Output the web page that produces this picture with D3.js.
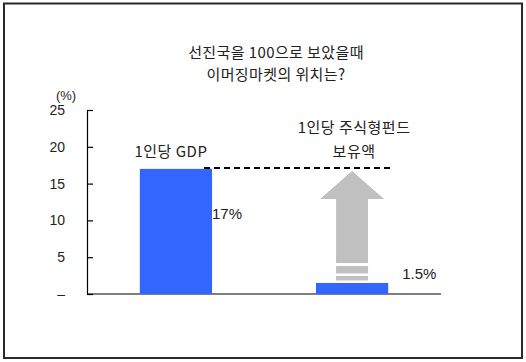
<!DOCTYPE html>
<html>
<head>
<meta charset="utf-8">
<script src="https://cdn.jsdelivr.net/npm/d3@7"></script>
<style>
  body { margin: 0; background: #fff; }
  text { font-family: "Noto Sans CJK KR", "Noto Sans", sans-serif; fill: #222; }
</style>
</head>
<body>
<svg id="chart"></svg>
<script>
// chart data
const categories = ['1인당 GDP', '1인당 주식형펀드 보유액'];
const values = [17, 1.5];
const valueLabels = ['17%', '1.5%'];
const catLabelLines = [['1인당 GDP'], ['1인당 주식형펀드', '보유액']];
const yTicks = [0, 5, 10, 15, 20, 25];
const yTickLabels = ['–', '5', '10', '15', '20', '25'];
const titleLines = ['선진국을 100으로 보았을때', '이머징마켓의 위치는?'];

const width = 526, height = 362;
const margin = { top: 110, right: 85, bottom: 68, left: 87 };
const innerW = width - margin.left - margin.right;
const innerH = height - margin.top - margin.bottom;

const svg = d3.select('#chart')
    .attr('width', width)
    .attr('height', height);

// frame
svg.append('rect')
    .attr('x', 4).attr('y', 3.5)
    .attr('width', 518).attr('height', 354.5)
    .attr('fill', 'none')
    .attr('stroke', '#2a2a2a')
    .attr('stroke-width', 2);

// title
svg.selectAll('.title')
    .data(titleLines)
    .join('text')
    .attr('class', 'title')
    .attr('x', 276)
    .attr('y', (d, i) => 58 + i * 22)
    .attr('text-anchor', 'middle')
    .attr('font-size', '15px')
    .attr('letter-spacing', '0.4px')
    .text(d => d);

const chart = svg.append('g')
    .attr('transform', `translate(${margin.left},${margin.top})`);

const xScale = d3.scaleBand()
    .domain(categories)
    .range([0, innerW])
    .paddingInner(0.59)
    .paddingOuter(0.3);

const yScale = d3.scaleLinear()
    .domain([0, 25])
    .range([innerH, 0]);

// y axis with inward ticks
const yAxis = d3.axisRight(yScale)
    .tickValues(yTicks)
    .tickFormat((d, i) => yTickLabels[i])
    .tickSize(6)
    .tickSizeOuter(0);

const yAxisG = chart.append('g').call(yAxis);
yAxisG.select('.domain').attr('stroke', '#000').attr('stroke-width', 1.2);
yAxisG.selectAll('.tick line').attr('stroke', '#000').attr('stroke-width', 1.2);
yAxisG.selectAll('.tick text')
    .attr('x', -22)
    .attr('text-anchor', 'end')
    .attr('font-size', '14px')
    .attr('fill', '#222')
    .style('font-family', 'Arial, "Liberation Sans", sans-serif');

chart.append('text')
    .attr('x', -21)
    .attr('y', -10)
    .attr('text-anchor', 'middle')
    .attr('font-size', '13px')
    .style('font-family', 'Arial, "Liberation Sans", sans-serif')
    .text('(%)');

// x baseline
chart.append('line')
    .attr('x1', 0).attr('x2', innerW)
    .attr('y1', yScale(0)).attr('y2', yScale(0))
    .attr('stroke', '#000')
    .attr('stroke-width', 1.2);

// arrow from the small bar up to the GDP level
const cx2 = xScale(categories[1]) + xScale.bandwidth() / 2;
const tipY = yScale(values[0]) + 2;
const headY = tipY + 28;
const shaftEnd = yScale(values[1]) - 20;
const arrowG = chart.append('g').attr('fill', '#c0c0c0');
arrowG.append('path')
    .attr('d', `M${cx2},${tipY} L${cx2 + 32},${headY} L${cx2 + 16},${headY} L${cx2 + 16},${shaftEnd}
        L${cx2 - 16},${shaftEnd} L${cx2 - 16},${headY} L${cx2 - 32},${headY} Z`);
arrowG.append('rect')
    .attr('x', cx2 - 16).attr('y', yScale(values[1]) - 17)
    .attr('width', 32).attr('height', 7.5);
arrowG.append('rect')
    .attr('x', cx2 - 16).attr('y', yScale(values[1]) - 7)
    .attr('width', 32).attr('height', 4.5);

// bars
chart.selectAll('.bar')
    .data(values)
    .join('rect')
    .attr('class', 'bar')
    .attr('x', (d, i) => xScale(categories[i]))
    .attr('y', d => yScale(d))
    .attr('width', xScale.bandwidth())
    .attr('height', d => yScale(0) - yScale(d))
    .attr('fill', '#3366ff');

// dashed reference line at GDP level
chart.append('line')
    .attr('x1', xScale(categories[0]) + xScale.bandwidth() - 8)
    .attr('x2', xScale(categories[1]) + xScale.bandwidth() + 2)
    .attr('y1', yScale(values[0]) - 1)
    .attr('y2', yScale(values[0]) - 1)
    .attr('stroke', '#000')
    .attr('stroke-width', 2)
    .attr('stroke-dasharray', '6,4');

// value labels, to the right of each bar
chart.selectAll('.val')
    .data(values)
    .join('text')
    .attr('class', 'val')
    .attr('x', (d, i) => xScale(categories[i]) + xScale.bandwidth() + (i === 0 ? 0 : 14))
    .attr('y', (d, i) => i === 0 ? yScale(d) + 50 : yScale(d) - 4)
    .attr('font-size', '15px')
    .style('font-family', 'Arial, "Liberation Sans", sans-serif')
    .text((d, i) => valueLabels[i]);

// category labels above the bars
catLabelLines.forEach((lines, i) => {
    const cx = xScale(categories[i]) + xScale.bandwidth() / 2;
    chart.selectAll(`.cat${i}`)
        .data(lines)
        .join('text')
        .attr('class', `cat${i}`)
        .attr('x', cx - (i === 0 ? 5 : -2))
        .attr('y', (d, j) => 47 - (lines.length - 1 - j) * 24)
        .attr('text-anchor', 'middle')
        .attr('font-size', '15px')
        .attr('letter-spacing', '0.5px')
        .text(d => d);
});
</script>
</body>
</html>
